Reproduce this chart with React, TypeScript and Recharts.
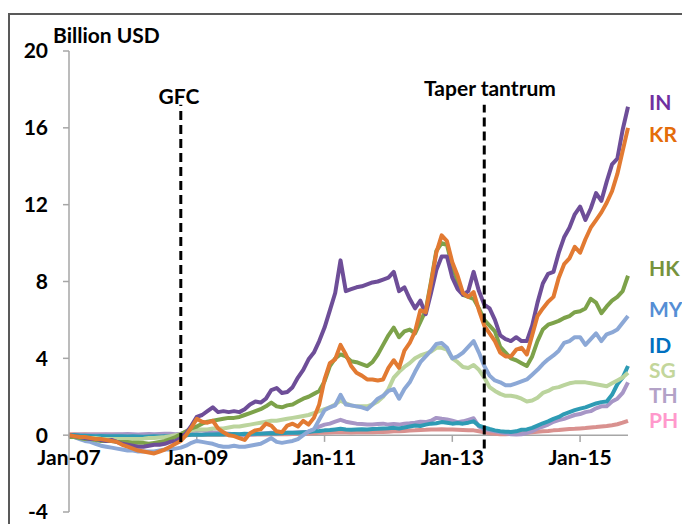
import { LineChart, Line, XAxis, YAxis, ReferenceLine, ReferenceDot } from "recharts";

// monthly, Jan-07 (t = 0) to Oct-15 (t = 105)
const IN = [
  0, -0.05, -0.1, -0.15, -0.2, -0.2, -0.25, -0.3, -0.25, -0.35,
  -0.45, -0.5, -0.55, -0.6, -0.6, -0.55, -0.5, -0.5, -0.45, -0.35,
  -0.3, -0.15, 0.1, 0.5, 0.95, 1.05, 1.25, 1.45, 1.2, 1.25,
  1.2, 1.25, 1.2, 1.35, 1.6, 1.75, 1.7, 1.9, 2.35, 2.45,
  2.2, 2.25, 2.5, 3.0, 3.4, 3.95, 4.3, 4.9, 5.6, 6.5,
  7.4, 9.1, 7.5, 7.6, 7.7, 7.75, 7.85, 7.95, 8.0, 8.1,
  8.2, 8.5, 7.5, 7.7, 7.1, 6.6, 7.0, 6.3, 7.4, 8.6,
  9.3, 9.3, 8.2, 7.6, 7.3, 7.5, 8.5, 7.5, 6.8, 6.6,
  6.0, 5.2, 5.0, 4.9, 5.1, 4.9, 4.9, 5.7, 6.9, 7.9,
  8.4, 8.5, 9.5, 10.3, 10.8, 11.5, 11.9, 11.2, 11.8, 12.6,
  12.2, 13.2, 14.1, 14.4, 15.9, 17.1,
];
const KR = [
  0, -0.05, -0.1, -0.1, -0.15, -0.2, -0.2, -0.25, -0.3, -0.35,
  -0.5, -0.6, -0.7, -0.8, -0.85, -0.9, -0.95, -0.85, -0.75, -0.6,
  -0.45, -0.3, 0.0, 0.4, 0.85, 0.7, 0.65, 0.75, 0.35, 0.15,
  0.0, -0.05, -0.15, -0.25, 0.1, 0.25, 0.3, 0.6, 0.5, 0.2,
  0.15, 0.5, 0.6, 0.45, 0.75, 0.55, 0.9, 1.6, 2.9, 3.75,
  3.95, 4.7, 4.2, 3.6, 3.25, 3.1, 2.9, 2.9, 2.85, 2.9,
  3.5, 3.9, 3.5, 4.4, 4.8, 5.4, 6.5, 6.4, 7.9, 9.5,
  10.4, 10.1, 9.0, 8.3, 7.4, 7.2, 7.45, 6.5, 5.7, 5.3,
  4.9, 4.3, 4.1, 4.1, 4.45, 4.55, 4.2, 5.2, 6.2, 6.6,
  6.95, 7.2, 8.2, 8.9, 9.2, 9.8, 9.5, 10.2, 10.8, 11.2,
  11.6, 12.1, 12.7, 13.6, 14.8, 16.0,
];
const HK = [
  -0.1, -0.1, -0.15, -0.2, -0.2, -0.25, -0.3, -0.3, -0.3, -0.35,
  -0.35, -0.35, -0.4, -0.4, -0.4, -0.45, -0.4, -0.35, -0.3, -0.2,
  -0.1, 0.05, 0.2, 0.35, 0.45, 0.6, 0.7, 0.75, 0.8, 0.85,
  0.9, 0.9, 0.95, 1.05, 1.15, 1.25, 1.35, 1.5, 1.7, 1.5,
  1.45, 1.55, 1.6, 1.75, 1.9, 2.0, 2.15, 2.3, 2.8, 3.6,
  4.0, 4.2, 4.1, 3.85, 3.8, 3.7, 3.6, 3.8, 4.2, 4.7,
  5.2, 5.6, 5.1, 5.4, 5.5, 5.3, 5.9, 6.5, 8.0, 9.6,
  10.0, 9.9, 8.8, 8.0, 7.3, 7.2, 7.1, 6.6, 6.0, 5.7,
  5.4, 4.6, 4.3, 4.0, 3.9, 3.75, 3.6, 4.1, 4.9, 5.5,
  5.75, 5.85, 5.95, 6.1, 6.2, 6.4, 6.45, 6.6, 7.1, 6.9,
  6.35, 6.7, 7.0, 7.2, 7.5, 8.3,
];
const MY = [
  0, -0.1, -0.2, -0.3, -0.35, -0.45, -0.55, -0.6, -0.65, -0.7,
  -0.75, -0.8, -0.8, -0.85, -0.85, -0.85, -0.85, -0.8, -0.75, -0.75,
  -0.7, -0.65, -0.55, -0.4, -0.3, -0.35, -0.4, -0.45, -0.55, -0.6,
  -0.6, -0.55, -0.6, -0.6, -0.55, -0.5, -0.45, -0.3, -0.15, -0.35,
  -0.4, -0.35, -0.3, -0.2, 0.0, 0.2, 0.3, 0.8, 1.3, 1.45,
  1.55, 2.1, 1.6, 1.55, 1.5, 1.45, 1.35, 1.6, 1.9, 2.05,
  2.3, 2.4, 1.9, 2.4, 2.75, 3.3, 3.8, 4.1, 4.4, 4.75,
  4.8, 4.55, 4.0, 4.1, 4.3, 4.6, 4.9, 4.3, 3.6, 3.1,
  2.85, 2.75, 2.6, 2.6, 2.7, 2.8, 2.9, 3.15, 3.4, 3.7,
  3.95, 4.15, 4.4, 4.8, 4.9, 5.1, 5.1, 4.7, 5.0, 5.3,
  4.9, 5.25, 5.35, 5.5, 5.85, 6.2,
];
const ID = [
  0, 0.01, -0.02, -0.03, -0.04, -0.05, -0.04, -0.05, -0.06, -0.05,
  -0.06, -0.07, -0.06, -0.07, -0.08, -0.07, -0.06, -0.07, -0.06, -0.05,
  -0.04, -0.02, 0.0, 0.02, 0.03, 0.02, 0.04, 0.03, 0.05, 0.04,
  0.05, 0.06, 0.05, 0.07, 0.06, 0.08, 0.07, 0.09, 0.1, 0.09,
  0.1, 0.12, 0.13, 0.12, 0.15, 0.17, 0.2, 0.22, 0.25, 0.27,
  0.3, 0.33, 0.3, 0.28, 0.3, 0.31, 0.3, 0.32, 0.33, 0.35,
  0.36, 0.38, 0.35, 0.4, 0.45, 0.5, 0.48, 0.55, 0.6, 0.62,
  0.68, 0.65, 0.6, 0.63, 0.6, 0.65, 0.72, 0.5, 0.4, 0.32,
  0.25, 0.2, 0.18, 0.17, 0.2, 0.28, 0.3, 0.38, 0.5, 0.62,
  0.72, 0.85, 0.95, 1.1, 1.2, 1.3, 1.38, 1.45, 1.55, 1.65,
  1.72, 1.75, 2.1, 2.65, 3.0, 3.6,
];
const SG = [
  -0.1, -0.1, -0.12, -0.15, -0.15, -0.15, -0.18, -0.2, -0.2, -0.2,
  -0.2, -0.2, -0.2, -0.2, -0.18, -0.15, -0.15, -0.12, -0.1, -0.05,
  0, 0.05, 0.15, 0.25, 0.3, 0.3, 0.3, 0.35, 0.35, 0.35,
  0.4, 0.45, 0.45, 0.5, 0.55, 0.6, 0.65, 0.7, 0.75, 0.75,
  0.8, 0.85, 0.9, 0.95, 1.0, 1.05, 1.15, 1.25, 1.35, 1.45,
  1.6, 1.8, 1.65, 1.55, 1.5, 1.5, 1.5, 1.6, 1.75, 2.0,
  2.4, 3.0, 3.3, 3.55, 3.75, 4.0, 4.15, 4.25, 4.35, 4.55,
  4.55, 4.45, 4.0, 3.8, 3.55, 3.5, 3.65, 3.4, 3.0, 2.5,
  2.3, 2.15, 2.05, 2.05, 2.0, 1.9, 1.75, 1.8, 1.95, 2.2,
  2.3, 2.45, 2.5, 2.6, 2.7, 2.75, 2.75, 2.75, 2.7, 2.65,
  2.6, 2.55, 2.7, 2.85, 3.0, 3.25,
];
const TH = [
  0, 0.02, 0.03, 0.02, 0.03, 0.04, 0.03, 0.05, 0.04, 0.05,
  0.05, 0.06, 0.05, 0.04, 0.05, 0.06, 0.05, 0.06, 0.07, 0.08,
  0.05, 0.08, 0.15, 0.22, 0.28, 0.25, 0.2, 0.15, 0.12, 0.1,
  0.08, 0.05, 0.03, 0.0, 0.02, 0.05, 0.08, 0.1, 0.12, 0.1,
  0.1, 0.12, 0.13, 0.15, 0.15, 0.18, 0.3, 0.45, 0.55, 0.6,
  0.7, 0.8, 0.7, 0.65, 0.6, 0.58, 0.55, 0.55, 0.58, 0.6,
  0.55, 0.58, 0.55, 0.6, 0.62, 0.65, 0.7, 0.68, 0.75, 0.9,
  0.85, 0.82, 0.75, 0.68, 0.72, 0.8, 0.88, 0.45, 0.3, 0.25,
  0.2, 0.15, 0.1, 0.05, 0.03, 0.05, 0.12, 0.2, 0.35, 0.45,
  0.55, 0.7, 0.78, 0.85, 0.95, 1.05, 1.1, 1.2, 1.25, 1.4,
  1.5, 1.5, 1.75, 1.9, 2.2, 2.75,
];
const PH = [
  0.05, 0.05, 0.04, 0.05, 0.03, 0.04, 0.03, 0.02, 0.03, 0.02,
  0.02, 0.01, 0.0, 0.01, 0.0, -0.01, 0.0, -0.01, 0.0, 0.0,
  0.0, 0.01, 0.0, 0.02, 0.03, 0.02, 0.03, 0.02, 0.03, 0.02,
  0.03, 0.03, 0.02, 0.04, 0.03, 0.04, 0.05, 0.04, 0.05, 0.05,
  0.06, 0.05, 0.06, 0.07, 0.08, 0.08, 0.1, 0.12, 0.13, 0.14,
  0.15, 0.16, 0.15, 0.14, 0.15, 0.15, 0.16, 0.15, 0.16, 0.17,
  0.18, 0.2, 0.2, 0.22, 0.24, 0.25, 0.27, 0.28, 0.3, 0.3,
  0.31, 0.3, 0.29, 0.28, 0.27, 0.26, 0.25, 0.2, 0.15, 0.1,
  0.07, 0.05, 0.05, 0.06, 0.08, 0.1, 0.12, 0.15, 0.18, 0.2,
  0.22, 0.25, 0.27, 0.3, 0.32, 0.33, 0.35, 0.37, 0.4, 0.42,
  0.45, 0.48, 0.52, 0.57, 0.65, 0.75,
];

const yTicks = [-4, 0, 4, 8, 12, 16, 20];
const xTicks = [0, 24, 48, 72, 96];
const xTickLabels = ["Jan-07", "Jan-09", "Jan-11", "Jan-13", "Jan-15"];
const xTickMarks = [12, 24, 48, 72, 96];
const gfcMonth = 21;
const taperMonth = 78;

const series = [
  { key: "PH", values: PH, line: "#D9918F", label: "#FF99CC" },
  { key: "TH", values: TH, line: "#A796C6", label: "#B3A2C7" },
  { key: "ID", values: ID, line: "#2E9BB4", label: "#0070C0" },
  { key: "SG", values: SG, line: "#BBD49D", label: "#C3D69B" },
  { key: "MY", values: MY, line: "#8CA8D6", label: "#558ED5" },
  { key: "HK", values: HK, line: "#7DA24A", label: "#77933C" },
  { key: "IN", values: IN, line: "#6E4E98", label: "#7030A0" },
  { key: "KR", values: KR, line: "#E27A32", label: "#E46C0A" },
];

const data = IN.map((_, t) => {
  const row: Record<string, number> = { t };
  series.forEach((s) => (row[s.key] = s.values[t]));
  return row;
});

const font = "Lato, 'DejaVu Sans', sans-serif";
const fontSize = 21;

// right-hand labels, top to bottom
const sideLabels = [
  { key: "IN", y: 102 },
  { key: "KR", y: 134 },
  { key: "HK", y: 268 },
  { key: "MY", y: 309 },
  { key: "ID", y: 345 },
  { key: "SG", y: 370 },
  { key: "TH", y: 395 },
  { key: "PH", y: 420 },
];

function App() {
  return (
    <div style={{ position: "relative", width: 682, height: 516, overflow: "hidden" }}>
      <div
        style={{
          position: "absolute",
          left: 0,
          top: 5,
          width: 720,
          height: 560,
          border: "2px solid #595959",
          boxSizing: "border-box",
        }}
      />
      <div style={{ position: "absolute", left: 0, top: 0 }}>
        <LineChart
          width={682}
          height={516}
          data={data}
          margin={{ top: 43, right: 62, bottom: 12, left: 0 }}
        >
          <XAxis type="number" dataKey="t" domain={[0, 105]} hide />
          <YAxis
            domain={[-4, 20]}
            ticks={yTicks}
            interval={0}
            width={61}
            axisLine={{ stroke: "#A6A6A6", strokeWidth: 1.5 }}
            tickLine={{ stroke: "#A6A6A6", strokeWidth: 1.5 }}
            tickSize={6}
            tickMargin={15}
            tick={{ fill: "#000", fontSize, fontWeight: 700, fontFamily: font }}
          />
          <ReferenceLine y={0} stroke="#A6A6A6" strokeWidth={1.5} />
          {xTickMarks.map((t) => (
            <ReferenceLine
              key={"m" + t}
              segment={[
                { x: t, y: 0 },
                { x: t, y: -0.35 },
              ]}
              stroke="#A6A6A6"
              strokeWidth={1.5}
            />
          ))}
          {xTicks.map((t, i) => (
            <ReferenceDot
              key={"l" + t}
              x={t}
              y={0}
              r={0}
              fill="none"
              stroke="none"
              label={{
                value: xTickLabels[i],
                position: "bottom",
                offset: 15,
                fill: "#000",
                fontSize,
                fontWeight: 700,
                fontFamily: font,
              }}
            />
          ))}
          {series.map((s) => (
            <Line
              key={s.key}
              dataKey={s.key}
              stroke={s.line}
              strokeWidth={4}
              strokeLinejoin="round"
              dot={false}
              type="linear"
              isAnimationActive={false}
            />
          ))}
          <ReferenceLine
            segment={[
              { x: gfcMonth, y: -0.35 },
              { x: gfcMonth, y: 17.2 },
            ]}
            stroke="#000"
            strokeWidth={3}
            strokeDasharray="9 5"
          />
          <ReferenceLine
            segment={[
              { x: taperMonth, y: -0.7 },
              { x: taperMonth, y: 17.2 },
            ]}
            stroke="#000"
            strokeWidth={3}
            strokeDasharray="9 5"
          />
        </LineChart>
      </div>
      <svg
        width={682}
        height={516}
        style={{ position: "absolute", left: 0, top: 0, pointerEvents: "none" }}
        fontFamily={font}
        fontWeight={700}
        fontSize={fontSize}
      >
        <text x={45} y={35} fill="#000">Billion USD</text>
        <text x={171} y={96} fill="#000" textAnchor="middle">GFC</text>
        <text x={482} y={88} fill="#000" textAnchor="middle">Taper tantrum</text>
        {sideLabels.map((l) => (
          <text
            key={l.key}
            x={641}
            y={l.y}
            fill={series.find((s) => s.key === l.key)!.label}
          >
            {l.key}
          </text>
        ))}
      </svg>
    </div>
  );
}

export default App;
